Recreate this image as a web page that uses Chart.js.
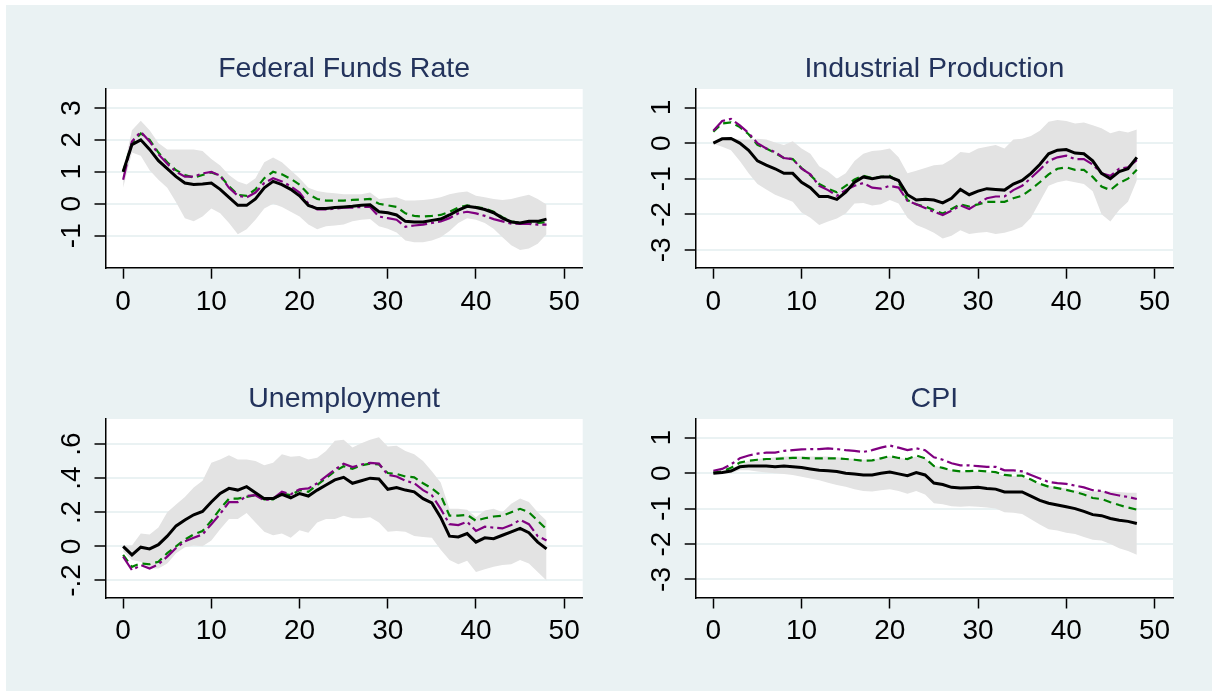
<!DOCTYPE html>
<html><head><meta charset="utf-8">
<script src="https://cdn.jsdelivr.net/npm/chart.js@4.4.1/dist/chart.umd.min.js"></script>
<style>
html,body{margin:0;padding:0;background:#fff;width:1212px;height:691px;overflow:hidden;}
#bg{position:absolute;left:6px;top:5px;width:1206px;height:686px;background:#EAF2F3;}
canvas{position:absolute;}
</style></head><body>
<div id="bg"></div>
<canvas id="c1" width="614" height="345" style="left:6px;top:5px"></canvas>
<canvas id="c2" width="592" height="345" style="left:620px;top:5px"></canvas>
<canvas id="c3" width="614" height="341" style="left:6px;top:350px"></canvas>
<canvas id="c4" width="592" height="341" style="left:620px;top:350px"></canvas>
<script>
const horizons = [0,1,2,3,4,5,6,7,8,9,
  10,11,12,13,14,15,16,17,18,19,
  20,21,22,23,24,25,26,27,28,29,
  30,31,32,33,34,35,36,37,38,39,
  40,41,42,43,44,45,46,47,48];
const xTicks = [0,10,20,30,40,50];
const xTickLabels = ["0","10","20","30","40","50"];
const titles = ["Federal Funds Rate","Industrial Production","Unemployment","CPI"];

// Federal Funds Rate
const ffrBlack = [1.0,1.85,2.0,1.7,1.35,1.1,0.85,0.65,0.6,0.62,
  0.65,0.45,0.2,-0.05,-0.05,0.15,0.5,0.7,0.6,0.45,
  0.25,-0.05,-0.15,-0.15,-0.12,-0.1,-0.08,-0.05,-0.03,-0.25,
  -0.28,-0.35,-0.55,-0.57,-0.57,-0.52,-0.48,-0.35,-0.2,-0.08,
  -0.12,-0.18,-0.28,-0.45,-0.57,-0.6,-0.55,-0.55,-0.48];
const ffrGreen = [1.0,1.9,2.2,2.0,1.6,1.3,1.05,0.9,0.82,0.9,
  0.98,0.88,0.55,0.28,0.25,0.45,0.8,1.0,0.92,0.78,
  0.6,0.3,0.15,0.1,0.1,0.1,0.12,0.13,0.15,0.0,
  -0.05,-0.1,-0.3,-0.38,-0.4,-0.38,-0.35,-0.25,-0.12,-0.05,
  -0.1,-0.15,-0.25,-0.42,-0.55,-0.6,-0.6,-0.6,-0.58];
const ffrPurple = [0.75,1.95,2.25,1.95,1.55,1.25,1.0,0.85,0.85,0.95,
  1.0,0.88,0.5,0.25,0.2,0.35,0.65,0.8,0.7,0.55,
  0.35,0.0,-0.18,-0.18,-0.15,-0.12,-0.12,-0.1,-0.1,-0.4,
  -0.45,-0.5,-0.72,-0.68,-0.65,-0.6,-0.55,-0.45,-0.3,-0.25,
  -0.3,-0.38,-0.48,-0.55,-0.62,-0.63,-0.63,-0.65,-0.65];
const ffrUpper = [1.05,2.3,2.6,2.3,1.9,1.7,1.7,1.7,1.7,1.65,
  1.4,1.2,0.9,0.7,0.6,0.8,1.3,1.45,1.3,1.05,
  0.8,0.5,0.4,0.35,0.33,0.3,0.3,0.3,0.35,0.15,
  0.18,0.2,0.1,0.1,0.12,0.15,0.2,0.3,0.35,0.38,
  0.25,0.2,0.15,0.12,0.15,0.22,0.28,0.15,-0.02];
const ffrLower = [0.5,1.6,1.5,1.05,0.75,0.5,0.05,-0.45,-0.55,-0.4,
  -0.15,-0.3,-0.6,-0.95,-0.8,-0.5,-0.15,0.0,-0.1,-0.25,
  -0.4,-0.65,-0.8,-0.7,-0.68,-0.65,-0.55,-0.5,-0.48,-0.7,
  -0.78,-0.9,-1.15,-1.2,-1.2,-1.15,-1.05,-0.85,-0.6,-0.45,
  -0.5,-0.6,-0.78,-1.05,-1.3,-1.45,-1.4,-1.25,-0.95];
const ffrYTicks = [-1,0,1,2,3];
const ffrYLabels = ["-1","0","1","2","3"];

// Industrial Production
const ipBlack = [0.0,0.12,0.13,0.0,-0.2,-0.5,-0.62,-0.72,-0.85,-0.85,
  -1.1,-1.25,-1.5,-1.5,-1.58,-1.38,-1.1,-0.95,-1.0,-0.95,
  -0.95,-1.05,-1.45,-1.6,-1.58,-1.6,-1.68,-1.55,-1.3,-1.45,
  -1.35,-1.28,-1.3,-1.32,-1.15,-1.05,-0.85,-0.6,-0.3,-0.2,
  -0.18,-0.28,-0.3,-0.5,-0.85,-1.0,-0.8,-0.72,-0.4];
const ipPurple = [0.35,0.62,0.68,0.5,0.28,0.0,-0.15,-0.25,-0.42,-0.45,
  -0.72,-0.88,-1.2,-1.32,-1.48,-1.32,-1.2,-1.12,-1.25,-1.28,
  -1.2,-1.25,-1.62,-1.72,-1.82,-1.93,-2.02,-1.9,-1.75,-1.85,
  -1.7,-1.55,-1.5,-1.5,-1.32,-1.2,-0.98,-0.75,-0.5,-0.4,
  -0.35,-0.45,-0.45,-0.6,-0.85,-0.92,-0.72,-0.68,-0.48];
const ipGreen = [0.32,0.55,0.58,0.45,0.25,-0.05,-0.15,-0.28,-0.42,-0.45,
  -0.7,-0.9,-1.15,-1.28,-1.38,-1.2,-1.02,-0.92,-0.98,-0.95,
  -0.92,-1.1,-1.6,-1.72,-1.78,-1.88,-1.98,-1.85,-1.72,-1.78,
  -1.72,-1.65,-1.65,-1.65,-1.55,-1.48,-1.3,-1.1,-0.88,-0.72,
  -0.68,-0.75,-0.75,-0.95,-1.22,-1.32,-1.12,-1.0,-0.75];
const ipUpper = [0.05,0.12,0.15,0.1,0.1,0.12,0.1,0.02,-0.05,0.05,
  -0.15,-0.3,-0.65,-0.8,-1.0,-0.85,-0.5,-0.3,-0.22,-0.2,
  -0.15,-0.4,-0.85,-0.78,-0.7,-0.62,-0.6,-0.45,-0.25,-0.28,
  -0.15,-0.1,-0.05,-0.15,0.1,0.12,0.2,0.35,0.6,0.65,
  0.62,0.55,0.58,0.5,0.42,0.28,0.35,0.3,0.38];
const ipLower = [-0.02,-0.1,-0.2,-0.5,-0.85,-1.15,-1.3,-1.45,-1.55,-1.65,
  -1.95,-2.1,-2.3,-2.2,-2.12,-1.98,-1.7,-1.68,-1.75,-1.72,
  -1.6,-1.7,-2.1,-2.3,-2.4,-2.52,-2.68,-2.6,-2.45,-2.55,
  -2.52,-2.5,-2.55,-2.52,-2.45,-2.35,-2.1,-1.65,-1.2,-1.1,
  -1.05,-1.1,-1.15,-1.35,-2.0,-2.2,-1.88,-1.65,-1.05];
const ipYTicks = [-3,-2,-1,0,1];
const ipYLabels = ["-3","-2","-1","0","1"];

// Unemployment
const unBlack = [0.0,-0.05,-0.005,-0.015,0.01,0.06,0.12,0.155,0.185,0.205,
  0.26,0.31,0.34,0.33,0.35,0.315,0.28,0.28,0.305,0.285,
  0.31,0.295,0.33,0.36,0.39,0.405,0.37,0.385,0.4,0.395,
  0.335,0.345,0.33,0.32,0.28,0.255,0.17,0.06,0.055,0.075,
  0.025,0.05,0.045,0.065,0.085,0.105,0.08,0.025,-0.015];
const unGreen = [-0.05,-0.12,-0.1,-0.105,-0.09,-0.04,0.0,0.04,0.07,0.09,
  0.15,0.22,0.28,0.28,0.29,0.3,0.275,0.275,0.31,0.3,
  0.33,0.32,0.36,0.4,0.44,0.47,0.455,0.475,0.485,0.48,
  0.43,0.425,0.41,0.405,0.37,0.34,0.3,0.18,0.18,0.185,
  0.15,0.165,0.175,0.18,0.2,0.22,0.2,0.15,0.1];
const unPurple = [-0.06,-0.14,-0.11,-0.13,-0.105,-0.06,-0.01,0.03,0.05,0.07,
  0.13,0.19,0.26,0.26,0.295,0.3,0.27,0.28,0.32,0.305,
  0.335,0.34,0.37,0.41,0.45,0.485,0.465,0.48,0.49,0.485,
  0.42,0.41,0.385,0.37,0.33,0.3,0.22,0.13,0.125,0.145,
  0.09,0.115,0.11,0.105,0.125,0.155,0.13,0.06,0.035];
const unUpper = [0.005,0.005,0.075,0.07,0.11,0.2,0.245,0.29,0.345,0.385,
  0.49,0.51,0.535,0.51,0.51,0.5,0.475,0.49,0.54,0.525,
  0.53,0.51,0.52,0.56,0.62,0.625,0.58,0.605,0.625,0.64,
  0.585,0.59,0.56,0.54,0.5,0.44,0.375,0.22,0.22,0.215,
  0.17,0.21,0.22,0.2,0.25,0.28,0.26,0.2,0.15];
const unLower = [-0.03,-0.08,-0.09,-0.13,-0.13,-0.1,-0.04,-0.005,0.005,0.0,
  0.035,0.1,0.16,0.16,0.195,0.14,0.085,0.065,0.075,0.05,
  0.095,0.08,0.14,0.16,0.16,0.18,0.165,0.165,0.17,0.14,
  0.085,0.09,0.085,0.06,0.055,0.05,-0.02,-0.08,-0.105,-0.085,
  -0.15,-0.135,-0.12,-0.11,-0.105,-0.08,-0.1,-0.15,-0.2];
const unYTicks = [-0.2,0,0.2,0.4,0.6];
const unYLabels = ["-.2","0",".2",".4",".6"];

// CPI
const cpiBlack = [0.0,0.02,0.06,0.18,0.2,0.2,0.2,0.18,0.2,0.18,
  0.16,0.12,0.08,0.07,0.05,0.0,-0.02,-0.05,-0.05,0.0,
  0.03,-0.02,-0.07,0.02,-0.05,-0.28,-0.32,-0.4,-0.42,-0.41,
  -0.4,-0.43,-0.45,-0.53,-0.53,-0.53,-0.65,-0.77,-0.85,-0.9,
  -0.95,-1.0,-1.08,-1.17,-1.2,-1.28,-1.33,-1.36,-1.42];
const cpiGreen = [0.02,0.05,0.15,0.3,0.35,0.38,0.4,0.4,0.42,0.43,
  0.43,0.42,0.42,0.42,0.42,0.4,0.38,0.35,0.36,0.42,
  0.48,0.43,0.4,0.5,0.42,0.2,0.15,0.08,0.05,0.06,
  0.07,0.05,0.03,-0.05,-0.07,-0.07,-0.18,-0.3,-0.38,-0.42,
  -0.47,-0.53,-0.6,-0.7,-0.73,-0.82,-0.9,-0.97,-1.03];
const cpiPurple = [0.07,0.12,0.25,0.42,0.5,0.55,0.58,0.58,0.63,0.65,
  0.67,0.68,0.68,0.7,0.68,0.65,0.63,0.6,0.65,0.72,
  0.78,0.72,0.65,0.7,0.65,0.45,0.38,0.28,0.22,0.22,
  0.2,0.18,0.18,0.08,0.08,0.05,-0.05,-0.15,-0.25,-0.28,
  -0.3,-0.35,-0.4,-0.48,-0.5,-0.58,-0.63,-0.67,-0.73];
const cpiUpper = [0.02,0.05,0.12,0.25,0.35,0.4,0.42,0.45,0.47,0.47,
  0.47,0.47,0.47,0.47,0.45,0.42,0.4,0.38,0.38,0.42,
  0.48,0.43,0.4,0.47,0.42,0.22,0.15,0.08,0.05,0.05,
  0.05,0.02,0.0,-0.08,-0.08,-0.1,-0.2,-0.3,-0.35,-0.4,
  -0.43,-0.48,-0.5,-0.52,-0.5,-0.52,-0.53,-0.55,-0.55];
const cpiLower = [-0.02,-0.02,0.0,0.08,0.08,0.05,0.02,0.0,-0.02,-0.05,
  -0.1,-0.15,-0.2,-0.27,-0.33,-0.38,-0.45,-0.5,-0.52,-0.48,
  -0.45,-0.5,-0.58,-0.5,-0.6,-0.85,-0.88,-0.93,-0.95,-0.93,
  -0.95,-0.97,-1.0,-1.1,-1.12,-1.15,-1.3,-1.45,-1.58,-1.62,
  -1.68,-1.72,-1.8,-1.88,-1.9,-2.0,-2.12,-2.2,-2.3];
const cpiYTicks = [-3,-2,-1,0,1];
const cpiYLabels = ["-3","-2","-1","0","1"];

const FONT = "'Liberation Sans', Arial, sans-serif";
const whiteArea = {
  id:'whiteArea',
  beforeDraw(chart){
    const a = chart.chartArea, c = chart.ctx;
    c.save(); c.fillStyle = '#ffffff';
    c.fillRect(a.left, a.top, a.right - a.left, a.bottom - a.top);
    c.restore();
  }
};
function pts(arr){ return arr.map((v,i)=>({x:horizons[i], y:v})); }

function make(id, title, s, yTicks, yLabels, yMin, yMax, g){
  const font = {family:FONT, size:28, lineHeight:1.2};
  new Chart(document.getElementById(id), {
    type:'line',
    data:{datasets:[
      {label:'black', data:pts(s.black), borderColor:'#000000', borderWidth:3, pointRadius:0, tension:0, fill:false},
      {label:'purple', data:pts(s.purple), borderColor:'#800080', borderWidth:2.2, borderDash:[16,4,3,4], pointRadius:0, tension:0, fill:false},
      {label:'green', data:pts(s.green), borderColor:'#008000', borderWidth:2.2, borderDash:[8,5], pointRadius:0, tension:0, fill:false},
      {label:'upper', data:pts(s.upper), borderColor:'rgba(0,0,0,0)', borderWidth:0, backgroundColor:'#e3e3e3', pointRadius:0, tension:0, fill:'+1'},
      {label:'lower', data:pts(s.lower), borderColor:'rgba(0,0,0,0)', borderWidth:0, pointRadius:0, tension:0, fill:false}
    ]},
    options:{
      responsive:false, animation:false, events:[],
      layout:{padding:{left:0, right:g.padRight, top:0, bottom:0}},
      plugins:{
        legend:{display:false}, tooltip:{enabled:false},
        title:{display:true, text:title, fullSize:false, color:'#23335c',
          font:{family:FONT, size:28.5, weight:'normal', lineHeight:1.2},
          padding:{top:g.tTop, bottom:g.tBot}}
      },
      scales:{
        x:{type:'linear', min:-2, max:52.1,
          afterBuildTicks:sc=>{ sc.ticks = xTicks.map(v=>({value:v})); },
          afterFit:sc=>{ sc.height = g.xH; },
          ticks:{callback:(v,i)=>xTickLabels[i], font:font, color:'#000', padding:6.4, minRotation:0, maxRotation:0, autoSkip:false},
          grid:{display:true, drawOnChartArea:false, drawTicks:true, tickLength:11, tickColor:'#000', tickWidth:1.5},
          border:{display:true, color:'#000', width:1.5}
        },
        y:{type:'linear', min:yMin, max:yMax,
          afterBuildTicks:sc=>{ sc.ticks = yTicks.map(v=>({value:v})); },
          afterFit:sc=>{ sc.width = g.yW; },
          ticks:{callback:(v,i)=>yLabels[i], font:font, color:'#000', padding:g.yPad, minRotation:90, maxRotation:90, crossAlign:'center', autoSkip:false},
          grid:{color:'#EAF2F3', lineWidth:2, drawTicks:true, tickLength:11, tickColor:'#000', tickWidth:1.5},
          border:{display:true, color:'#000', width:1.5}
        }
      }
    },
    plugins:[whiteArea]
  });
}

make('c1', titles[0], {black:ffrBlack, purple:ffrPurple, green:ffrGreen, upper:ffrUpper, lower:ffrLower},
  ffrYTicks, ffrYLabels, -2.0, 3.59, {yW:99.5, padRight:37.3, xH:82.3, tTop:46.9, tBot:2.9, yPad:9.5});
make('c2', titles[1], {black:ipBlack, purple:ipPurple, green:ipGreen, upper:ipUpper, lower:ipLower},
  ipYTicks, ipYLabels, -3.5, 1.52, {yW:75.7, padRight:39, xH:82.3, tTop:46.9, tBot:2.9, yPad:9.5});
make('c3', titles[2], {black:unBlack, purple:unPurple, green:unGreen, upper:unUpper, lower:unLower},
  unYTicks, unYLabels, -0.30, 0.747, {yW:99.5, padRight:37.3, xH:93.5, tTop:31.9, tBot:2.9, yPad:5.7});
make('c4', titles[3], {black:cpiBlack, purple:cpiPurple, green:cpiGreen, upper:cpiUpper, lower:cpiLower},
  cpiYTicks, cpiYLabels, -3.51, 1.53, {yW:75.7, padRight:39, xH:93.5, tTop:31.9, tBot:2.9, yPad:9.5});
</script>
</body></html>
